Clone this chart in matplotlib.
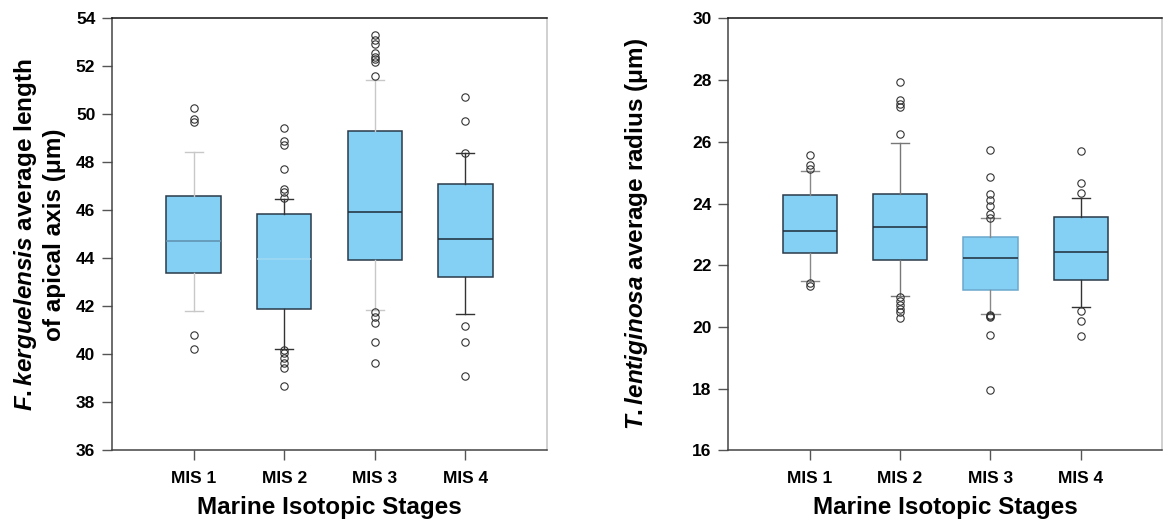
import matplotlib
matplotlib.use("Agg")
import matplotlib.pyplot as plt

plt.rcParams['font.family'] = ['Liberation Sans', 'DejaVu Sans']
plt.rcParams['font.weight'] = 'bold'
plt.rcParams['mathtext.fontset'] = 'custom'
plt.rcParams['mathtext.it'] = 'Liberation Sans:bold:italic'
plt.rcParams['mathtext.rm'] = 'Liberation Sans:bold'

stages = ["MIS 1", "MIS 2", "MIS 3", "MIS 4"]

# Left panel: F. kerguelensis apical axis length (um)
fk_q1 = [43.4, 41.9, 43.92, 43.22]
fk_med = [44.74, 43.96, 45.92, 44.81]
fk_q3 = [46.6, 45.84, 49.33, 47.1]
fk_wlo = [41.8, 40.22, 41.84, 41.7]
fk_whi = [48.43, 46.47, 51.45, 48.38]
fk_fliers = [
    [50.29, 49.82, 49.67, 40.83, 40.23],
    [49.42, 48.88, 48.74, 47.72, 46.89, 46.79, 46.54,
     40.2, 40.05, 39.85, 39.66, 39.42, 38.68],
    [53.3, 53.1, 52.92, 52.55, 52.4, 52.3, 52.18, 51.59,
     41.75, 41.55, 41.33, 40.5, 39.65],
    [50.72, 49.73, 48.4, 41.2, 40.54, 39.12],
]

# Right panel: T. lentiginosa radius (um)
tl_q1 = [22.4, 22.18, 21.2, 21.52]
tl_med = [23.12, 23.23, 22.25, 22.42]
tl_q3 = [24.28, 24.3, 22.93, 23.58]
tl_wlo = [21.5, 21.02, 20.42, 20.65]
tl_whi = [25.05, 25.96, 23.54, 24.18]
tl_fliers = [
    [25.57, 25.24, 25.13, 21.42, 21.33],
    [27.95, 27.35, 27.22, 27.13, 26.25,
     20.98, 20.85, 20.72, 20.6, 20.5, 20.28],
    [25.75, 24.87, 24.3, 24.13, 23.93, 23.65, 23.55,
     20.38, 20.35, 20.32, 19.75, 17.95],
    [25.69, 24.67, 24.34, 20.52, 20.2, 19.72],
]

fig = plt.figure(figsize=(11.66, 5.28), dpi=100)
axL = fig.add_axes([0.0961, 0.1468, 0.3730, 0.8182])
axR = fig.add_axes([0.6246, 0.1468, 0.3722, 0.8182])

FILL = '#84D0F4'


def draw(ax, q1, med, q3, wlo, whi, fliers, ylim, yticks, ylabel,
         edge_cols, med_cols, whisk_cols, ylabelpad):
    stats = []
    for i in range(len(stages)):
        stats.append(dict(q1=q1[i], med=med[i], q3=q3[i], whislo=wlo[i],
                          whishi=whi[i], fliers=fliers[i], label=stages[i]))
    pos = list(range(1, len(stages) + 1))
    b = ax.bxp(stats, positions=pos, widths=0.6, capwidths=0.2,
               patch_artist=True, showfliers=True,
               flierprops=dict(marker='o', markersize=5.3, markerfacecolor='none',
                               markeredgecolor='#333333', markeredgewidth=0.8),
               boxprops=dict(facecolor=FILL, linewidth=1.1),
               medianprops=dict(linewidth=1.1),
               whiskerprops=dict(linewidth=1.0),
               capprops=dict(linewidth=1.0))
    for i, box in enumerate(b['boxes']):
        box.set_edgecolor(edge_cols[i])
        b['medians'][i].set_color(med_cols[i])
        for w in b['whiskers'][2 * i:2 * i + 2]:
            w.set_color(whisk_cols[i])
        for c in b['caps'][2 * i:2 * i + 2]:
            c.set_color(whisk_cols[i])
    ax.set_xlim(0.1, 4.9)
    ax.set_ylim(*ylim)
    ax.set_yticks(yticks)
    ax.set_xticks(pos)
    ax.set_xticklabels(stages)
    ax.tick_params(axis='both', direction='out', length=7, width=1.0,
                   color='#555555', labelsize=12.5, pad=5)
    ax.tick_params(axis='x', pad=8)
    for lab in ax.get_xticklabels() + ax.get_yticklabels():
        lab.set_fontweight('bold')
    ax.spines['top'].set_color('#111111')
    ax.spines['left'].set_color('#444444')
    ax.spines['bottom'].set_color('#444444')
    ax.spines['right'].set_color('#c4c4c4')
    for s in ax.spines.values():
        s.set_linewidth(1.1)
    ax.set_xlabel("Marine Isotopic Stages", fontsize=17.5, fontweight='bold',
                  labelpad=7)
    ax.set_ylabel(ylabel, fontsize=17.5, fontweight='bold', labelpad=ylabelpad,
                  linespacing=1.25)


draw(axL, fk_q1, fk_med, fk_q3, fk_wlo, fk_whi, fk_fliers, (36, 54),
     list(range(36, 55, 2)),
     "$\\it{F.kerguelensis}$ average length\nof apical axis (μm)",
     edge_cols=['#2a3a4a', '#2a3a4a', '#2a3a4a', '#2a3a4a'],
     med_cols=['#5f8fae', '#9fd8f2', '#1e2c3a', '#1e2c3a'],
     whisk_cols=['#c8c8c8', '#333333', '#c8c8c8', '#333333'],
     ylabelpad=7)

draw(axR, tl_q1, tl_med, tl_q3, tl_wlo, tl_whi, tl_fliers, (16, 30),
     list(range(16, 31, 2)),
     "$\\it{T.lentiginosa}$ average radius (μm)",
     edge_cols=['#2a3a4a', '#2a3a4a', '#6aa8cc', '#2a3a4a'],
     med_cols=['#1e2c3a', '#1e2c3a', '#1e2c3a', '#1e2c3a'],
     whisk_cols=['#888888', '#777777', '#888888', '#333333'],
     ylabelpad=30)

fig.savefig("out.png", dpi=100)
